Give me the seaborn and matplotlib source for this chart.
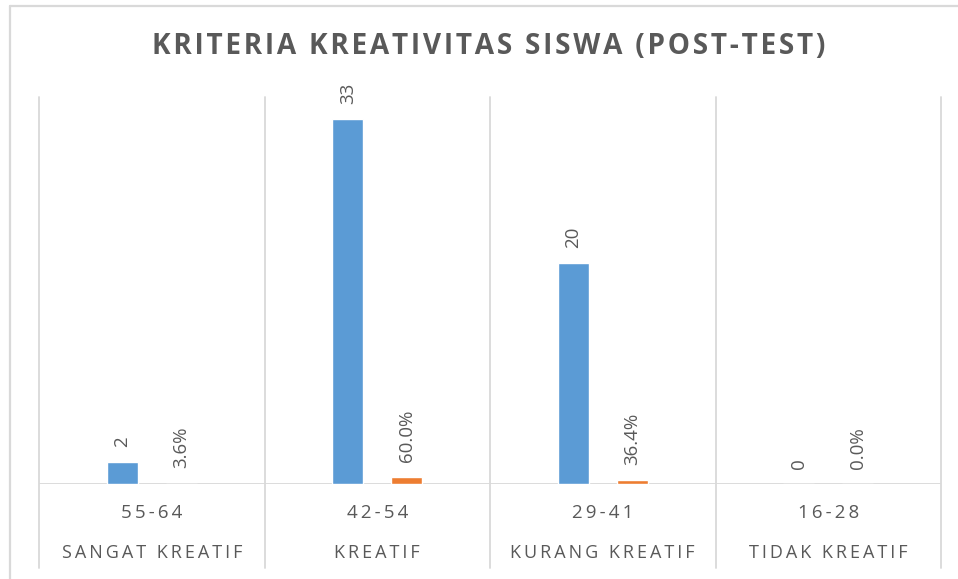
import matplotlib
matplotlib.use("Agg")
import matplotlib.pyplot as plt
import matplotlib.transforms as mtransforms
from matplotlib.lines import Line2D
import pandas as pd
import seaborn as sns

# data
rentang = ["55-64", "42-54", "29-41", "16-28"]
kriteria = ["SANGAT KREATIF", "KREATIF", "KURANG KREATIF", "TIDAK KREATIF"]
jumlah = [2, 33, 20, 0]
persentase = [0.036, 0.600, 0.364, 0.000]
seri = ["Jumlah", "Persentase"]

BLUE = "#5B9BD5"
ORANGE = "#ED7D31"
TEXT = "#595959"
GRID = "#D9D9D9"
FAM = ["Open Sans", "DejaVu Sans"]


def spaced(s, sp="\u2009"):
    # Excel-style letter spacing
    return sp.join(s)


df = pd.DataFrame({
    "rentang": rentang * 2,
    "seri": [seri[0]] * len(rentang) + [seri[1]] * len(rentang),
    "nilai": jumlah + persentase,
})

sns.set_theme(style="white")
plt.rcParams["font.family"] = FAM

fig = plt.figure(figsize=(9.58, 5.79), dpi=100)
ax = fig.add_axes([39 / 958, 95 / 579, 902 / 958, 387 / 579])

sns.barplot(
    data=df, x="rentang", y="nilai", hue="seri",
    order=rentang, hue_order=seri,
    palette=[BLUE, ORANGE], width=0.524, gap=0.473,
    legend=False, ax=ax, saturation=1,
)

ax.set_ylim(0, 35)
ax.set_xlim(-0.5, len(rentang) - 0.5)
ax.set_yticks([])
ax.set_xlabel("")
ax.set_ylabel("")
for s in ax.spines.values():
    s.set_visible(False)

# data labels
lbl_kw = dict(rotation=90, padding=11, color=TEXT, fontsize=13.5)
ax.bar_label(ax.containers[0], labels=[str(v) for v in jumlah], **lbl_kw)
ax.bar_label(ax.containers[1], labels=[f"{p:.1%}" for p in persentase], **lbl_kw)

# category separators and baseline
trans = mtransforms.blended_transform_factory(ax.transData, ax.transAxes)
for b in [i - 0.5 for i in range(len(rentang) + 1)]:
    ax.add_line(Line2D([b, b], [-0.217, 1], transform=trans, color=GRID,
                       lw=1.3, clip_on=False, zorder=0))
ax.axhline(0, color=GRID, lw=1.3, zorder=0)

# two-level category axis
ax.set_xticks(range(len(rentang)))
ax.set_xticklabels([])
ax.tick_params(axis="x", length=0)
for i, (r, k) in enumerate(zip(rentang, kriteria)):
    ax.text(i, -0.075, spaced(r), transform=trans, ha="center", va="center",
            fontsize=13.5, color=TEXT)
    ax.text(i, -0.178, spaced(k), transform=trans, ha="center", va="center",
            fontsize=13, color=TEXT)

fig.text(489 / 958, 1 - 47 / 579, spaced("KRITERIA KREATIVITAS SISWA (POST-TEST)", "\u200a"),
         ha="center", va="center", fontsize=20.2, fontweight="bold", color=TEXT)

# outer chart frame (only top and left edges visible)
fig.add_artist(Line2D([10 / 958, 10 / 958], [0, 1 - 6 / 579], transform=fig.transFigure,
                      color=GRID, lw=1.6))
fig.add_artist(Line2D([10 / 958, 1], [1 - 6 / 579, 1 - 6 / 579], transform=fig.transFigure,
                      color=GRID, lw=1.6))

fig.savefig("out.png", dpi=100)
